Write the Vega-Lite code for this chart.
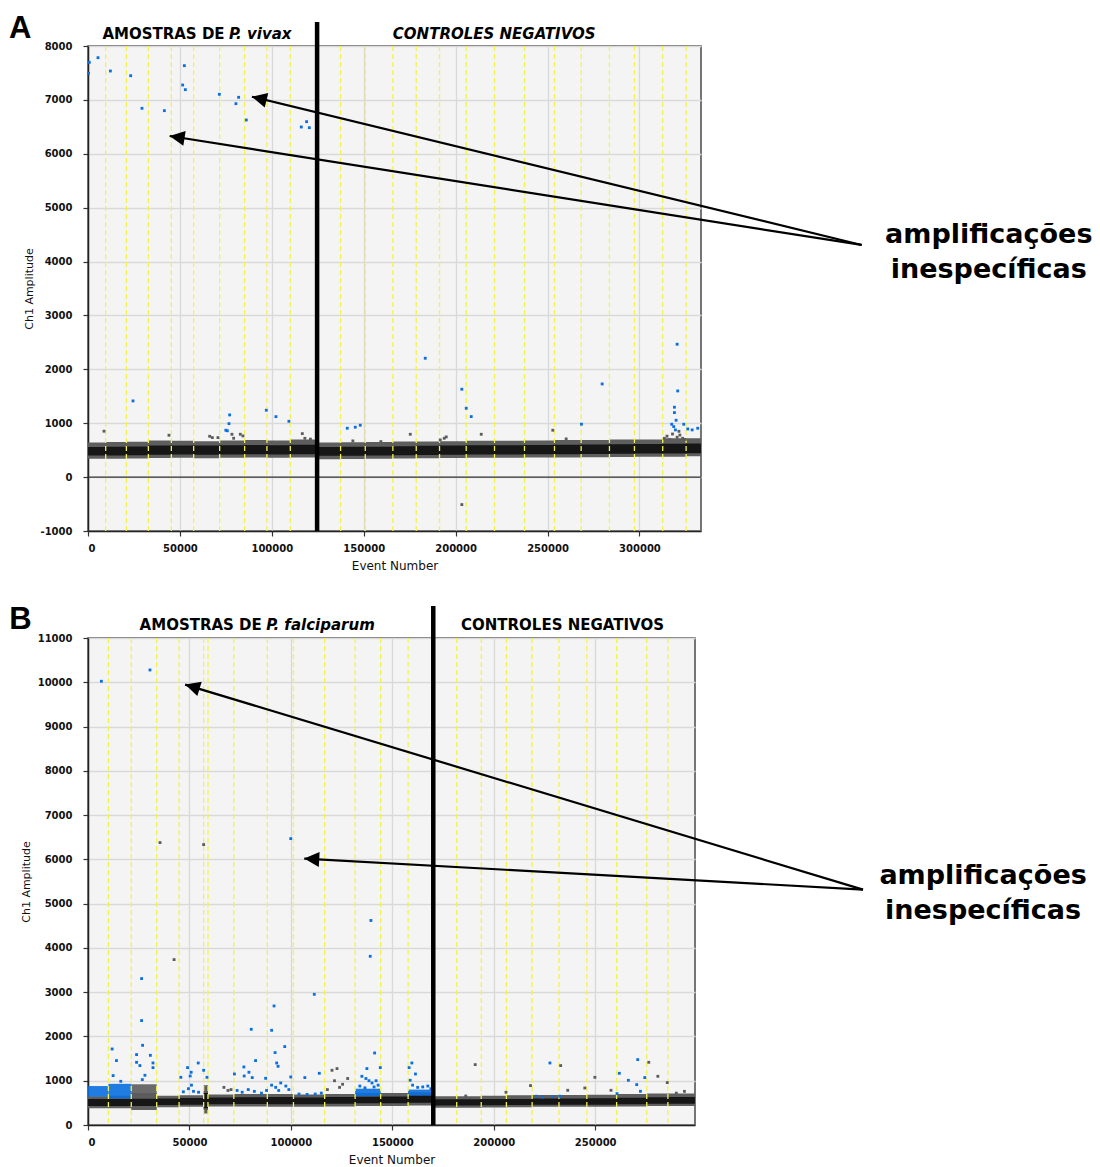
{
  "$schema": "https://vega.github.io/schema/vega-lite/v6.json",
  "background": "white",
  "padding": {"left": 8, "top": 12, "right": 0, "bottom": 0},
  "spacing": 30,
  "config": {
    "view": {"fill": "#f4f4f4", "stroke": "#4a4a4a", "strokeWidth": 1.5},
    "axis": {
      "labelFont": "DejaVu Sans", "labelFontWeight": "bold", "labelFontSize": 10, "labelColor": "#111",
      "titleFont": "DejaVu Sans", "titleFontWeight": "normal", "titleFontSize": 11, "titleColor": "#111",
      "domainColor": "#222", "domainWidth": 1.5, "tickColor": "#333", "tickSize": 5, "tickWidth": 1.2,
      "gridColor": "#d9d9d9", "gridWidth": 1.3, "labelExpr": "'' + datum.value"
    },
    "axisX": {"titleFontSize": 12, "labelPadding": 7, "titlePadding": 7},
    "axisY": {"labelPadding": 11, "titlePadding": 6},
    "text": {"font": "DejaVu Sans"}
  },
  "datasets": {
    "bandA": [
      {"ev": 0, "hlo": 340, "hhi": 640, "clo": 400, "chi": 560},
      {"ev": 9625, "hlo": 340, "hhi": 650, "clo": 400, "chi": 565},
      {"ev": 20880, "hlo": 345, "hhi": 655, "clo": 405, "chi": 570},
      {"ev": 32845, "hlo": 355, "hhi": 680, "clo": 415, "chi": 585},
      {"ev": 45350, "hlo": 360, "hhi": 675, "clo": 420, "chi": 585},
      {"ev": 57480, "hlo": 350, "hhi": 665, "clo": 415, "chi": 585},
      {"ev": 71620, "hlo": 360, "hhi": 680, "clo": 420, "chi": 590},
      {"ev": 85210, "hlo": 365, "hhi": 690, "clo": 425, "chi": 595},
      {"ev": 97340, "hlo": 360, "hhi": 680, "clo": 420, "chi": 590},
      {"ev": 110060, "hlo": 365, "hhi": 700, "clo": 425, "chi": 600},
      {"ev": 124640, "hlo": 330, "hhi": 640, "clo": 395, "chi": 560},
      {"ev": 137420, "hlo": 335, "hhi": 645, "clo": 398, "chi": 562},
      {"ev": 150850, "hlo": 340, "hhi": 650, "clo": 400, "chi": 565},
      {"ev": 165860, "hlo": 345, "hhi": 660, "clo": 405, "chi": 575},
      {"ev": 178580, "hlo": 350, "hhi": 660, "clo": 410, "chi": 580},
      {"ev": 191250, "hlo": 355, "hhi": 665, "clo": 415, "chi": 585},
      {"ev": 205770, "hlo": 360, "hhi": 675, "clo": 420, "chi": 590},
      {"ev": 221160, "hlo": 360, "hhi": 675, "clo": 420, "chi": 590},
      {"ev": 237470, "hlo": 365, "hhi": 680, "clo": 425, "chi": 595},
      {"ev": 253790, "hlo": 365, "hhi": 690, "clo": 425, "chi": 600},
      {"ev": 268300, "hlo": 370, "hhi": 690, "clo": 430, "chi": 605},
      {"ev": 283690, "hlo": 375, "hhi": 700, "clo": 435, "chi": 610},
      {"ev": 297290, "hlo": 380, "hhi": 700, "clo": 440, "chi": 615},
      {"ev": 312680, "hlo": 380, "hhi": 720, "clo": 440, "chi": 620},
      {"ev": 325400, "hlo": 385, "hhi": 720, "clo": 445, "chi": 625},
      {"ev": 333500, "hlo": 385, "hhi": 720, "clo": 445, "chi": 625}
    ],
    "wellsA": [
      {"ev": 9625}, {"ev": 20880}, {"ev": 32845}, {"ev": 45350}, {"ev": 57480}, {"ev": 71620},
      {"ev": 85210}, {"ev": 97340}, {"ev": 110060}, {"ev": 137420}, {"ev": 150850}, {"ev": 165860},
      {"ev": 178580}, {"ev": 191250}, {"ev": 205770}, {"ev": 221160}, {"ev": 237470}, {"ev": 253790},
      {"ev": 268300}, {"ev": 283690}, {"ev": 297290}, {"ev": 312680}, {"ev": 325400}
    ],
    "ptsA": [
      {"ev": 300, "amp": 7494, "g": "p"}, {"ev": 700, "amp": 7697, "g": "p"}, {"ev": 5440, "amp": 7783, "g": "p"},
      {"ev": 12180, "amp": 7536, "g": "p"}, {"ev": 23220, "amp": 7449, "g": "p"}, {"ev": 29370, "amp": 6844, "g": "p"},
      {"ev": 41550, "amp": 6800, "g": "p"}, {"ev": 51500, "amp": 7276, "g": "p"}, {"ev": 52960, "amp": 7190, "g": "p"},
      {"ev": 52420, "amp": 7635, "g": "p"}, {"ev": 71450, "amp": 7104, "g": "p"}, {"ev": 80480, "amp": 6930, "g": "p"},
      {"ev": 81950, "amp": 7048, "g": "p"}, {"ev": 86130, "amp": 6627, "g": "p"}, {"ev": 116040, "amp": 6497, "g": "p"},
      {"ev": 118930, "amp": 6596, "g": "p"}, {"ev": 120400, "amp": 6484, "g": "p"},
      {"ev": 24470, "amp": 1414, "g": "p"}, {"ev": 77060, "amp": 1154, "g": "p"}, {"ev": 76700, "amp": 992, "g": "p"},
      {"ev": 75000, "amp": 870, "g": "p"}, {"ev": 75800, "amp": 860, "g": "p"}, {"ev": 97000, "amp": 1241, "g": "p"},
      {"ev": 102240, "amp": 1122, "g": "p"}, {"ev": 109300, "amp": 1036, "g": "p"}, {"ev": 141060, "amp": 907, "g": "p"},
      {"ev": 145400, "amp": 926, "g": "p"}, {"ev": 148130, "amp": 963, "g": "p"}, {"ev": 183470, "amp": 2206, "g": "p"},
      {"ev": 203390, "amp": 1631, "g": "p"}, {"ev": 205770, "amp": 1278, "g": "p"}, {"ev": 208490, "amp": 1123, "g": "p"},
      {"ev": 279720, "amp": 1729, "g": "p"}, {"ev": 268470, "amp": 982, "g": "p"}, {"ev": 320510, "amp": 2466, "g": "p"},
      {"ev": 320840, "amp": 1599, "g": "p"}, {"ev": 319040, "amp": 1297, "g": "p"}, {"ev": 319040, "amp": 1197, "g": "p"},
      {"ev": 319950, "amp": 1055, "g": "p"}, {"ev": 317560, "amp": 981, "g": "p"}, {"ev": 318650, "amp": 937, "g": "p"},
      {"ev": 319590, "amp": 876, "g": "p"}, {"ev": 324110, "amp": 981, "g": "p"}, {"ev": 326290, "amp": 894, "g": "p"},
      {"ev": 328680, "amp": 876, "g": "p"}, {"ev": 331720, "amp": 907, "g": "p"},
      {"ev": 8700, "amp": 852, "g": "n"}, {"ev": 44050, "amp": 777, "g": "n"}, {"ev": 66180, "amp": 758, "g": "n"},
      {"ev": 67650, "amp": 733, "g": "n"}, {"ev": 70700, "amp": 733, "g": "n"}, {"ev": 78310, "amp": 795, "g": "n"},
      {"ev": 79230, "amp": 721, "g": "n"}, {"ev": 82870, "amp": 795, "g": "n"}, {"ev": 84290, "amp": 764, "g": "n"},
      {"ev": 116590, "amp": 807, "g": "n"}, {"ev": 144100, "amp": 672, "g": "n"}, {"ev": 175320, "amp": 795, "g": "n"},
      {"ev": 191640, "amp": 690, "g": "n"}, {"ev": 193810, "amp": 721, "g": "n"}, {"ev": 194900, "amp": 746, "g": "n"},
      {"ev": 213930, "amp": 795, "g": "n"}, {"ev": 252870, "amp": 870, "g": "n"}, {"ev": 159330, "amp": 659, "g": "n"},
      {"ev": 203390, "amp": -510, "g": "n"}, {"ev": 260150, "amp": 709, "g": "n"}, {"ev": 313500, "amp": 720, "g": "n"},
      {"ev": 315000, "amp": 760, "g": "n"}, {"ev": 316500, "amp": 700, "g": "n"}, {"ev": 318000, "amp": 800, "g": "n"},
      {"ev": 320500, "amp": 740, "g": "n"}, {"ev": 322000, "amp": 780, "g": "n"}, {"ev": 323500, "amp": 720, "g": "n"},
      {"ev": 325000, "amp": 700, "g": "n"}, {"ev": 321500, "amp": 850, "g": "n"}, {"ev": 118000, "amp": 720, "g": "n"},
      {"ev": 121000, "amp": 705, "g": "n"}
    ],
    "bandB": [
      {"ev": 0, "hlo": 380, "hhi": 650, "clo": 430, "chi": 585},
      {"ev": 10060, "hlo": 380, "hhi": 660, "clo": 430, "chi": 590},
      {"ev": 21320, "hlo": 340, "hhi": 720, "clo": 430, "chi": 595},
      {"ev": 33860, "hlo": 400, "hhi": 660, "clo": 450, "chi": 600},
      {"ev": 44910, "hlo": 410, "hhi": 670, "clo": 460, "chi": 610},
      {"ev": 57010, "hlo": 260, "hhi": 900, "clo": 380, "chi": 720},
      {"ev": 59140, "hlo": 420, "hhi": 690, "clo": 470, "chi": 620},
      {"ev": 71880, "hlo": 420, "hhi": 700, "clo": 475, "chi": 625},
      {"ev": 88390, "hlo": 410, "hhi": 700, "clo": 470, "chi": 630},
      {"ev": 101280, "hlo": 410, "hhi": 690, "clo": 470, "chi": 620},
      {"ev": 116650, "hlo": 420, "hhi": 700, "clo": 480, "chi": 630},
      {"ev": 131670, "hlo": 430, "hhi": 720, "clo": 490, "chi": 640},
      {"ev": 144260, "hlo": 430, "hhi": 720, "clo": 490, "chi": 645},
      {"ev": 157790, "hlo": 440, "hhi": 740, "clo": 500, "chi": 660},
      {"ev": 170190, "hlo": 390, "hhi": 650, "clo": 440, "chi": 580},
      {"ev": 181740, "hlo": 390, "hhi": 650, "clo": 440, "chi": 580},
      {"ev": 193830, "hlo": 395, "hhi": 660, "clo": 445, "chi": 585},
      {"ev": 206230, "hlo": 400, "hhi": 670, "clo": 450, "chi": 590},
      {"ev": 218920, "hlo": 410, "hhi": 680, "clo": 455, "chi": 600},
      {"ev": 232150, "hlo": 410, "hhi": 680, "clo": 455, "chi": 600},
      {"ev": 245880, "hlo": 410, "hhi": 685, "clo": 460, "chi": 605},
      {"ev": 260560, "hlo": 420, "hhi": 700, "clo": 470, "chi": 615},
      {"ev": 275430, "hlo": 430, "hhi": 710, "clo": 480, "chi": 625},
      {"ev": 285840, "hlo": 430, "hhi": 710, "clo": 480, "chi": 630},
      {"ev": 299200, "hlo": 430, "hhi": 710, "clo": 480, "chi": 630}
    ],
    "cloudsB": [
      {"ev": 0, "ev2": 10060, "lo": 640, "hi": 880, "g": "p"},
      {"ev": 10060, "ev2": 21320, "lo": 600, "hi": 930, "g": "p"},
      {"ev": 21320, "ev2": 33860, "lo": 600, "hi": 920, "g": "n"},
      {"ev": 131670, "ev2": 144260, "lo": 650, "hi": 820, "g": "p"},
      {"ev": 157790, "ev2": 170190, "lo": 660, "hi": 800, "g": "p"}
    ],
    "wellsB": [
      {"ev": 10060}, {"ev": 21320}, {"ev": 33860}, {"ev": 44910}, {"ev": 57010}, {"ev": 59140},
      {"ev": 71880}, {"ev": 88390}, {"ev": 101280}, {"ev": 116650}, {"ev": 131670}, {"ev": 144260},
      {"ev": 157790}, {"ev": 181740}, {"ev": 193830}, {"ev": 206230}, {"ev": 218920}, {"ev": 232150},
      {"ev": 245880}, {"ev": 260560}, {"ev": 275430}, {"ev": 285840}
    ],
    "ptsB": [
      {"ev": 6590, "amp": 10023, "g": "p"}, {"ev": 30540, "amp": 10278, "g": "p"}, {"ev": 99940, "amp": 6469, "g": "p"},
      {"ev": 26420, "amp": 3307, "g": "p"}, {"ev": 26420, "amp": 2358, "g": "p"}, {"ev": 26920, "amp": 1800, "g": "p"},
      {"ev": 11900, "amp": 1717, "g": "p"}, {"ev": 14030, "amp": 1455, "g": "p"}, {"ev": 12390, "amp": 1116, "g": "p"},
      {"ev": 16160, "amp": 987, "g": "p"}, {"ev": 23940, "amp": 1590, "g": "p"}, {"ev": 23940, "amp": 1416, "g": "p"},
      {"ev": 25580, "amp": 1342, "g": "p"}, {"ev": 30740, "amp": 1574, "g": "p"}, {"ev": 32030, "amp": 1401, "g": "p"},
      {"ev": 32030, "amp": 1296, "g": "p"}, {"ev": 28060, "amp": 1123, "g": "p"}, {"ev": 26770, "amp": 1025, "g": "p"},
      {"ev": 111540, "amp": 2952, "g": "p"}, {"ev": 91710, "amp": 2689, "g": "p"}, {"ev": 80460, "amp": 2162, "g": "p"},
      {"ev": 90520, "amp": 2139, "g": "p"}, {"ev": 96970, "amp": 1771, "g": "p"}, {"ev": 92210, "amp": 1635, "g": "p"},
      {"ev": 82590, "amp": 1455, "g": "p"}, {"ev": 93000, "amp": 1401, "g": "p"}, {"ev": 93690, "amp": 1326, "g": "p"},
      {"ev": 76840, "amp": 1311, "g": "p"}, {"ev": 72180, "amp": 1152, "g": "p"}, {"ev": 79320, "amp": 1191, "g": "p"},
      {"ev": 76990, "amp": 1107, "g": "p"}, {"ev": 80960, "amp": 1071, "g": "p"}, {"ev": 54330, "amp": 1401, "g": "p"},
      {"ev": 49080, "amp": 1296, "g": "p"}, {"ev": 50860, "amp": 1191, "g": "p"}, {"ev": 50370, "amp": 1107, "g": "p"},
      {"ev": 45760, "amp": 1077, "g": "p"}, {"ev": 57010, "amp": 1236, "g": "p"}, {"ev": 58650, "amp": 1077, "g": "p"},
      {"ev": 99940, "amp": 1085, "g": "p"}, {"ev": 106880, "amp": 1071, "g": "p"}, {"ev": 114020, "amp": 1168, "g": "p"},
      {"ev": 87550, "amp": 1055, "g": "p"}, {"ev": 139110, "amp": 3811, "g": "p"}, {"ev": 139450, "amp": 4620, "g": "p"},
      {"ev": 141290, "amp": 1627, "g": "p"}, {"ev": 137470, "amp": 1274, "g": "p"}, {"ev": 144070, "amp": 1296, "g": "p"},
      {"ev": 159630, "amp": 1401, "g": "p"}, {"ev": 158290, "amp": 1296, "g": "p"}, {"ev": 161410, "amp": 1152, "g": "p"},
      {"ev": 227690, "amp": 1401, "g": "p"}, {"ev": 270970, "amp": 1477, "g": "p"}, {"ev": 261890, "amp": 1168, "g": "p"},
      {"ev": 266360, "amp": 1010, "g": "p"}, {"ev": 274440, "amp": 1071, "g": "p"}, {"ev": 270470, "amp": 912, "g": "p"},
      {"ev": 272310, "amp": 761, "g": "p"}, {"ev": 260760, "amp": 709, "g": "p"},
      {"ev": 135000, "amp": 1100, "g": "p"}, {"ev": 137000, "amp": 1050, "g": "p"}, {"ev": 138500, "amp": 1000, "g": "p"},
      {"ev": 140000, "amp": 950, "g": "p"}, {"ev": 142000, "amp": 1000, "g": "p"}, {"ev": 143000, "amp": 900, "g": "p"},
      {"ev": 134000, "amp": 880, "g": "p"}, {"ev": 136500, "amp": 840, "g": "p"}, {"ev": 141000, "amp": 860, "g": "p"},
      {"ev": 158800, "amp": 1010, "g": "p"}, {"ev": 160000, "amp": 900, "g": "p"}, {"ev": 162500, "amp": 850, "g": "p"},
      {"ev": 165000, "amp": 860, "g": "p"}, {"ev": 167500, "amp": 880, "g": "p"}, {"ev": 169000, "amp": 820, "g": "p"},
      {"ev": 47000, "amp": 750, "g": "p"}, {"ev": 49500, "amp": 820, "g": "p"}, {"ev": 52000, "amp": 760, "g": "p"},
      {"ev": 54500, "amp": 740, "g": "p"}, {"ev": 51000, "amp": 900, "g": "p"}, {"ev": 73500, "amp": 780, "g": "p"},
      {"ev": 76000, "amp": 740, "g": "p"}, {"ev": 79000, "amp": 800, "g": "p"}, {"ev": 82000, "amp": 760, "g": "p"},
      {"ev": 85500, "amp": 720, "g": "p"}, {"ev": 88000, "amp": 780, "g": "p"}, {"ev": 90500, "amp": 900, "g": "p"},
      {"ev": 92500, "amp": 850, "g": "p"}, {"ev": 95000, "amp": 950, "g": "p"}, {"ev": 97500, "amp": 880, "g": "p"},
      {"ev": 99000, "amp": 800, "g": "p"}, {"ev": 94000, "amp": 780, "g": "p"}, {"ev": 104000, "amp": 700, "g": "p"},
      {"ev": 108000, "amp": 690, "g": "p"}, {"ev": 112000, "amp": 700, "g": "p"}, {"ev": 115000, "amp": 720, "g": "p"},
      {"ev": 221000, "amp": 650, "g": "p"}, {"ev": 224000, "amp": 630, "g": "p"}, {"ev": 229000, "amp": 640, "g": "p"},
      {"ev": 232500, "amp": 650, "g": "p"},
      {"ev": 42440, "amp": 3736, "g": "n"}, {"ev": 35500, "amp": 6379, "g": "n"}, {"ev": 57010, "amp": 6334, "g": "n"},
      {"ev": 120270, "amp": 1236, "g": "n"}, {"ev": 122740, "amp": 1274, "g": "n"}, {"ev": 190860, "amp": 1364, "g": "n"},
      {"ev": 232990, "amp": 1342, "g": "n"}, {"ev": 218130, "amp": 890, "g": "n"}, {"ev": 249850, "amp": 1077, "g": "n"},
      {"ev": 244890, "amp": 836, "g": "n"}, {"ev": 236470, "amp": 784, "g": "n"}, {"ev": 276420, "amp": 1416, "g": "n"},
      {"ev": 280890, "amp": 1100, "g": "n"}, {"ev": 285540, "amp": 958, "g": "n"}, {"ev": 257790, "amp": 784, "g": "n"},
      {"ev": 206030, "amp": 739, "g": "n"}, {"ev": 186200, "amp": 655, "g": "n"}, {"ev": 121500, "amp": 1000, "g": "n"},
      {"ev": 124000, "amp": 850, "g": "n"}, {"ev": 118000, "amp": 800, "g": "n"}, {"ev": 128000, "amp": 1050, "g": "n"},
      {"ev": 125500, "amp": 920, "g": "n"}, {"ev": 67000, "amp": 850, "g": "n"}, {"ev": 69000, "amp": 780, "g": "n"},
      {"ev": 70500, "amp": 800, "g": "n"}, {"ev": 290000, "amp": 720, "g": "n"}, {"ev": 294000, "amp": 760, "g": "n"}
    ]
  },
  "vconcat": [
    {
      "width": 613,
      "height": 485,
      "layer": [
        {
          "data": {"name": "bandA"},
          "mark": {"type": "area", "interpolate": "step-after", "color": "#5e5e5e"},
          "encoding": {
            "x": {"field": "ev", "type": "quantitative", "title": "Event Number",
                  "scale": {"domain": [0, 333500], "nice": false, "zero": false},
                  "axis": {"values": [0, 50000, 100000, 150000, 200000, 250000, 300000]}},
            "y": {"field": "hlo", "type": "quantitative", "title": "Ch1 Amplitude",
                  "scale": {"domain": [-1000, 8000], "nice": false, "zero": false},
                  "axis": {"values": [-1000, 0, 1000, 2000, 3000, 4000, 5000, 6000, 7000, 8000]}},
            "y2": {"field": "hhi"}
          }
        },
        {
          "data": {"name": "bandA"},
          "mark": {"type": "area", "interpolate": "step-after", "color": "#161616"},
          "encoding": {
            "x": {"field": "ev", "type": "quantitative", "title": "Event Number"},
            "y": {"field": "clo", "type": "quantitative", "title": "Ch1 Amplitude"},
            "y2": {"field": "chi"}
          }
        },
        {
          "data": {"name": "wellsA"},
          "mark": {"type": "rule", "color": "#f4f24c", "strokeWidth": 1.3, "strokeDash": [5, 3]},
          "encoding": {"x": {"field": "ev", "type": "quantitative", "title": "Event Number"}}
        },
        {
          "data": {"values": [{"amp": 0}]},
          "mark": {"type": "rule", "color": "#333333", "strokeWidth": 1.3},
          "encoding": {"y": {"field": "amp", "type": "quantitative", "title": "Ch1 Amplitude"}}
        },
        {
          "data": {"name": "ptsA"},
          "mark": {"type": "point", "shape": "square", "filled": true, "size": 8, "opacity": 1},
          "encoding": {
            "x": {"field": "ev", "type": "quantitative", "title": "Event Number"},
            "y": {"field": "amp", "type": "quantitative", "title": "Ch1 Amplitude"},
            "color": {"field": "g", "type": "nominal", "legend": null,
                      "scale": {"domain": ["p", "n"], "range": ["#0a6fe0", "#5c5c5c"]}}
          }
        },
        {
          "data": {"values": [{"ev": 124640, "bottom": -1000, "top": 8444}]},
          "mark": {"type": "rule", "color": "#000000", "strokeWidth": 4.5},
          "encoding": {
            "x": {"field": "ev", "type": "quantitative", "title": "Event Number"},
            "y": {"field": "bottom", "type": "quantitative", "title": "Ch1 Amplitude"},
            "y2": {"field": "top"}
          }
        },
        {
          "data": {"values": [
            {"ev": 420900, "amp": 4308, "ev2": 89180, "amp2": 7059},
            {"ev": 420900, "amp": 4308, "ev2": 44430, "amp2": 6330}
          ]},
          "mark": {"type": "rule", "color": "#000000", "strokeWidth": 2.2},
          "encoding": {
            "x": {"field": "ev", "type": "quantitative", "title": "Event Number"},
            "y": {"field": "amp", "type": "quantitative", "title": "Ch1 Amplitude"},
            "x2": {"field": "ev2"},
            "y2": {"field": "amp2"}
          }
        },
        {
          "data": {"values": [{"ev": 89180, "amp": 7059}]},
          "mark": {"type": "point", "shape": "M0,0L-1,-0.5L-1,0.5Z", "filled": true, "color": "#000000", "opacity": 1, "size": 900, "angle": 193.7},
          "encoding": {
            "x": {"field": "ev", "type": "quantitative", "title": "Event Number"},
            "y": {"field": "amp", "type": "quantitative", "title": "Ch1 Amplitude"}
          }
        },
        {
          "data": {"values": [{"ev": 44430, "amp": 6330}]},
          "mark": {"type": "point", "shape": "M0,0L-1,-0.5L-1,0.5Z", "filled": true, "color": "#000000", "opacity": 1, "size": 900, "angle": 188.9},
          "encoding": {
            "x": {"field": "ev", "type": "quantitative", "title": "Event Number"},
            "y": {"field": "amp", "type": "quantitative", "title": "Ch1 Amplitude"}
          }
        },
        {
          "data": {"values": [{"ev": 7830, "amp": 8124, "t": "AMOSTRAS DE"}]},
          "mark": {"type": "text", "align": "left", "baseline": "alphabetic", "fontSize": 15, "fontWeight": "bold", "color": "#000000"},
          "encoding": {
            "x": {"field": "ev", "type": "quantitative", "title": "Event Number"},
            "y": {"field": "amp", "type": "quantitative", "title": "Ch1 Amplitude"},
            "text": {"field": "t"}
          }
        },
        {
          "data": {"values": [{"ev": 76680, "amp": 8124, "t": "P. vivax"}, {"ev": 165860, "amp": 8124, "t": "CONTROLES NEGATIVOS"}]},
          "mark": {"type": "text", "align": "left", "baseline": "alphabetic", "fontSize": 15, "fontWeight": "bold", "fontStyle": "italic", "color": "#000000"},
          "encoding": {
            "x": {"field": "ev", "type": "quantitative", "title": "Event Number"},
            "y": {"field": "amp", "type": "quantitative", "title": "Ch1 Amplitude"},
            "text": {"field": "t"}
          }
        },
        {
          "data": {"values": [{"ev": -42960, "amp": 8143, "t": "A"}]},
          "mark": {"type": "text", "align": "left", "baseline": "alphabetic", "font": "Liberation Sans", "fontSize": 31, "fontWeight": "bold", "color": "#000000"},
          "encoding": {
            "x": {"field": "ev", "type": "quantitative", "title": "Event Number"},
            "y": {"field": "amp", "type": "quantitative", "title": "Ch1 Amplitude"},
            "text": {"field": "t"}
          }
        },
        {
          "data": {"values": [{"ev": 490070, "amp": 4340, "t": "amplificações\ninespecíficas"}]},
          "mark": {"type": "text", "align": "center", "baseline": "alphabetic", "fontSize": 27, "fontWeight": "bold", "lineBreak": "\n", "lineHeight": 35, "color": "#000000"},
          "encoding": {
            "x": {"field": "ev", "type": "quantitative", "title": "Event Number"},
            "y": {"field": "amp", "type": "quantitative", "title": "Ch1 Amplitude"},
            "text": {"field": "t"}
          }
        }
      ]
    },
    {
      "width": 607,
      "height": 487,
      "layer": [
        {
          "data": {"name": "bandB"},
          "mark": {"type": "area", "interpolate": "step-after", "color": "#5e5e5e"},
          "encoding": {
            "x": {"field": "ev", "type": "quantitative", "title": "Event Number",
                  "scale": {"domain": [0, 299200], "nice": false, "zero": false},
                  "axis": {"values": [0, 50000, 100000, 150000, 200000, 250000]}},
            "y": {"field": "hlo", "type": "quantitative", "title": "Ch1 Amplitude",
                  "scale": {"domain": [0, 11000], "nice": false, "zero": false},
                  "axis": {"values": [0, 1000, 2000, 3000, 4000, 5000, 6000, 7000, 8000, 9000, 10000, 11000]}},
            "y2": {"field": "hhi"}
          }
        },
        {
          "data": {"name": "cloudsB"},
          "mark": {"type": "rect", "opacity": 0.9},
          "encoding": {
            "x": {"field": "ev", "type": "quantitative", "title": "Event Number"},
            "x2": {"field": "ev2"},
            "y": {"field": "lo", "type": "quantitative", "title": "Ch1 Amplitude"},
            "y2": {"field": "hi"},
            "color": {"field": "g", "type": "nominal", "legend": null,
                      "scale": {"domain": ["p", "n"], "range": ["#0a6fe0", "#5c5c5c"]}}
          }
        },
        {
          "data": {"name": "bandB"},
          "mark": {"type": "area", "interpolate": "step-after", "color": "#161616"},
          "encoding": {
            "x": {"field": "ev", "type": "quantitative", "title": "Event Number"},
            "y": {"field": "clo", "type": "quantitative", "title": "Ch1 Amplitude"},
            "y2": {"field": "chi"}
          }
        },
        {
          "data": {"name": "wellsB"},
          "mark": {"type": "rule", "color": "#f4f24c", "strokeWidth": 1.3, "strokeDash": [5, 3]},
          "encoding": {"x": {"field": "ev", "type": "quantitative", "title": "Event Number"}}
        },
        {
          "data": {"name": "ptsB"},
          "mark": {"type": "point", "shape": "square", "filled": true, "size": 8, "opacity": 1},
          "encoding": {
            "x": {"field": "ev", "type": "quantitative", "title": "Event Number"},
            "y": {"field": "amp", "type": "quantitative", "title": "Ch1 Amplitude"},
            "color": {"field": "g", "type": "nominal", "legend": null,
                      "scale": {"domain": ["p", "n"], "range": ["#0a6fe0", "#5c5c5c"]}}
          }
        },
        {
          "data": {"values": [{"ev": 170190, "bottom": 0, "top": 11722}]},
          "mark": {"type": "rule", "color": "#000000", "strokeWidth": 4.5},
          "encoding": {
            "x": {"field": "ev", "type": "quantitative", "title": "Event Number"},
            "y": {"field": "bottom", "type": "quantitative", "title": "Ch1 Amplitude"},
            "y2": {"field": "top"}
          }
        },
        {
          "data": {"values": [
            {"ev": 382020, "amp": 5317, "ev2": 47890, "amp2": 9948},
            {"ev": 382020, "amp": 5317, "ev2": 106590, "amp2": 6018}
          ]},
          "mark": {"type": "rule", "color": "#000000", "strokeWidth": 2.2},
          "encoding": {
            "x": {"field": "ev", "type": "quantitative", "title": "Event Number"},
            "y": {"field": "amp", "type": "quantitative", "title": "Ch1 Amplitude"},
            "x2": {"field": "ev2"},
            "y2": {"field": "amp2"}
          }
        },
        {
          "data": {"values": [{"ev": 47890, "amp": 9948}]},
          "mark": {"type": "point", "shape": "M0,0L-1,-0.5L-1,0.5Z", "filled": true, "color": "#000000", "opacity": 1, "size": 900, "angle": 196.9},
          "encoding": {
            "x": {"field": "ev", "type": "quantitative", "title": "Event Number"},
            "y": {"field": "amp", "type": "quantitative", "title": "Ch1 Amplitude"}
          }
        },
        {
          "data": {"values": [{"ev": 106590, "amp": 6018}]},
          "mark": {"type": "point", "shape": "M0,0L-1,-0.5L-1,0.5Z", "filled": true, "color": "#000000", "opacity": 1, "size": 900, "angle": 183.2},
          "encoding": {
            "x": {"field": "ev", "type": "quantitative", "title": "Event Number"},
            "y": {"field": "amp", "type": "quantitative", "title": "Ch1 Amplitude"}
          }
        },
        {
          "data": {"values": [{"ev": 25430, "amp": 11174, "t": "AMOSTRAS DE"}, {"ev": 183870, "amp": 11174, "t": "CONTROLES NEGATIVOS"}]},
          "mark": {"type": "text", "align": "left", "baseline": "alphabetic", "fontSize": 15, "fontWeight": "bold", "color": "#000000"},
          "encoding": {
            "x": {"field": "ev", "type": "quantitative", "title": "Event Number"},
            "y": {"field": "amp", "type": "quantitative", "title": "Ch1 Amplitude"},
            "text": {"field": "t"}
          }
        },
        {
          "data": {"values": [{"ev": 87900, "amp": 11174, "t": "P. falciparum"}]},
          "mark": {"type": "text", "align": "left", "baseline": "alphabetic", "fontSize": 15, "fontWeight": "bold", "fontStyle": "italic", "color": "#000000"},
          "encoding": {
            "x": {"field": "ev", "type": "quantitative", "title": "Event Number"},
            "y": {"field": "amp", "type": "quantitative", "title": "Ch1 Amplitude"},
            "text": {"field": "t"}
          }
        },
        {
          "data": {"values": [{"ev": -38870, "amp": 11212, "t": "B"}]},
          "mark": {"type": "text", "align": "left", "baseline": "alphabetic", "font": "Liberation Sans", "fontSize": 31, "fontWeight": "bold", "color": "#000000"},
          "encoding": {
            "x": {"field": "ev", "type": "quantitative", "title": "Event Number"},
            "y": {"field": "amp", "type": "quantitative", "title": "Ch1 Amplitude"},
            "text": {"field": "t"}
          }
        },
        {
          "data": {"values": [{"ev": 441200, "amp": 5453, "t": "amplificações\ninespecíficas"}]},
          "mark": {"type": "text", "align": "center", "baseline": "alphabetic", "fontSize": 27, "fontWeight": "bold", "lineBreak": "\n", "lineHeight": 35, "color": "#000000"},
          "encoding": {
            "x": {"field": "ev", "type": "quantitative", "title": "Event Number"},
            "y": {"field": "amp", "type": "quantitative", "title": "Ch1 Amplitude"},
            "text": {"field": "t"}
          }
        }
      ]
    }
  ]
}
